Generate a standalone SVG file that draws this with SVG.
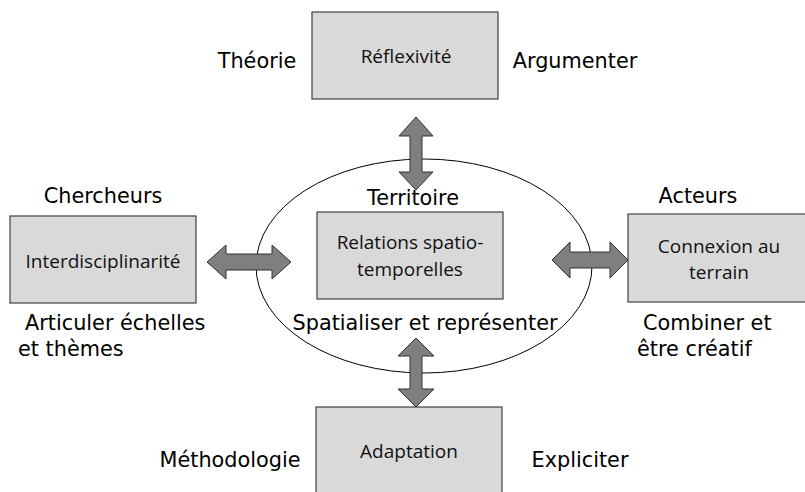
<svg xmlns="http://www.w3.org/2000/svg" width="805" height="492" viewBox="0 0 805 492">
<style>
.box{fill:#d9d9d9;stroke:#404040;stroke-width:1.2}
.arr{fill:#7f7f7f;stroke:#333;stroke-width:1}
.bt{font-family:"Open Sans","Noto Sans",sans-serif;font-size:19px;fill:#111;text-anchor:middle}
.lb{font-family:"DejaVu Sans","Noto Sans",sans-serif;font-size:20.8px;fill:#000}
</style>
<rect width="805" height="492" fill="#fff"/>
<ellipse cx="424" cy="266" rx="168" ry="107" fill="none" stroke="#000" stroke-width="1"/>
<g id="connectors">
<path class="arr" d="M416,117 L433,136 L422,136 L422,172 L433,172 L416,190 L399,172 L410,172 L410,136 L399,136 Z"/>
<path class="arr" d="M416,338 L434,356 L422,356 L422,389 L434,389 L416,407 L398,389 L410,389 L410,356 L398,356 Z"/>
<path class="arr" d="M207,262 L226,245 L226,254 L272,254 L272,245 L291,262 L272,279 L272,270 L226,270 L226,279 Z"/>
<path class="arr" d="M552,260 L570,242 L570,252 L610,252 L610,242 L628,260 L610,278 L610,268 L570,268 L570,278 Z"/>
</g>
<g id="reflexivite">
<rect class="box" x="312" y="12" width="186" height="87"/>
<text class="bt" x="406" y="63">Réflexivité</text>
</g>
<g id="interdisciplinarite">
<rect class="box" x="10" y="216" width="186" height="87"/>
<text class="bt" x="103" y="268">Interdisciplinarité</text>
</g>
<g id="relations">
<rect class="box" x="317" y="212" width="186" height="87"/>
<text class="bt" x="410" y="249">Relations spatio-</text>
<text class="bt" x="410" y="276">temporelles</text>
</g>
<g id="connexion">
<rect class="box" x="628" y="214" width="190" height="88"/>
<text class="bt" x="719" y="253">Connexion au</text>
<text class="bt" x="719" y="279">terrain</text>
</g>
<g id="adaptation">
<rect class="box" x="316" y="407" width="186" height="100"/>
<text class="bt" x="409" y="458">Adaptation</text>
</g>
<g id="labels">
<text class="lb" x="257" y="68" text-anchor="middle">Théorie</text>
<text class="lb" x="575" y="68" text-anchor="middle">Argumenter</text>
<text class="lb" x="103" y="203" text-anchor="middle">Chercheurs</text>
<text class="lb" x="413" y="205" text-anchor="middle">Territoire</text>
<text class="lb" x="698" y="203" text-anchor="middle">Acteurs</text>
<text class="lb" x="25" y="330">Articuler échelles</text>
<text class="lb" x="18" y="356">et thèmes</text>
<text class="lb" x="425" y="330" text-anchor="middle">Spatialiser et représenter</text>
<text class="lb" x="643" y="330">Combiner et</text>
<text class="lb" x="637" y="356">être créatif</text>
<text class="lb" x="230" y="467" text-anchor="middle">Méthodologie</text>
<text class="lb" x="580" y="467" text-anchor="middle">Expliciter</text>
</g>
</svg>
